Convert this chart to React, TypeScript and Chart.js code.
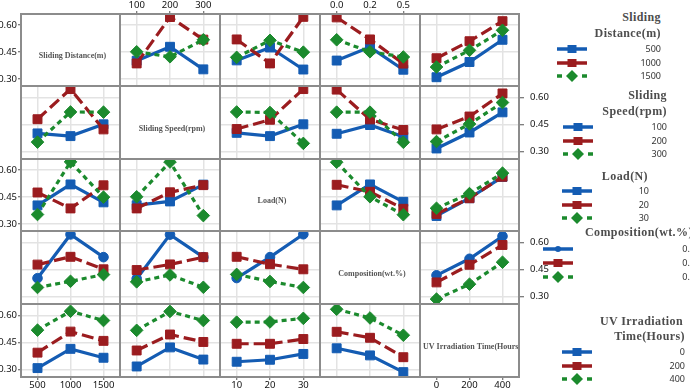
import React, { useEffect, useRef } from "react";
import { Chart, registerables } from "chart.js";

Chart.register(...registerables);

// ---------- text ----------
const factorNames = [
  "Sliding Distance(m)",
  "Sliding Speed(rpm)",
  "Load(N)",
  "Composition(wt.%)",
  "UV Irradiation Time(Hours)",
];
const legendTitles = [
  ["Sliding", "Distance(m)"],
  ["Sliding", "Speed(rpm)"],
  ["Load(N)"],
  ["Composition(wt.%)"],
  ["UV Irradiation", "Time(Hours)"],
];

// ---------- factor levels (category / tick labels) ----------
const distanceLevels = ["500", "1000", "1500"];
const speedLevels = ["100", "200", "300"];
const loadLevels = ["10", "20", "30"];
const compositionLevels = ["0.0", "0.2", "0.5"];
const uvLevels = ["0", "200", "400"];
const levelLists = [distanceLevels, speedLevels, loadLevels, compositionLevels, uvLevels];

// ---------- y axis ----------
const yTicks = [0.3, 0.45, 0.6];
const yMin = 0.26;
const yMax = 0.662;

// ---------- interaction means: [level of first factor][level of second factor] ----------
const distanceBySpeed = [
  [0.401, 0.479, 0.353],
  [0.386, 0.645, 0.519],
  [0.451, 0.423, 0.518],
];
const distanceByLoad = [
  [0.403, 0.475, 0.352],
  [0.52, 0.386, 0.646],
  [0.42, 0.515, 0.449],
];
const distanceByComposition = [
  [0.402, 0.477, 0.351],
  [0.643, 0.52, 0.385],
  [0.518, 0.451, 0.422],
];
const distanceByUV = [
  [0.309, 0.394, 0.518],
  [0.415, 0.51, 0.622],
  [0.366, 0.459, 0.571],
];
const speedByLoad = [
  [0.404, 0.386, 0.451],
  [0.425, 0.476, 0.645],
  [0.519, 0.516, 0.346],
];
const speedByComposition = [
  [0.399, 0.447, 0.382],
  [0.642, 0.478, 0.42],
  [0.518, 0.518, 0.352],
];
const speedByUV = [
  [0.318, 0.406, 0.517],
  [0.423, 0.494, 0.621],
  [0.356, 0.453, 0.571],
];
const loadByComposition = [
  [0.403, 0.52, 0.423],
  [0.518, 0.479, 0.384],
  [0.644, 0.451, 0.351],
];
const loadByUV = [
  [0.344, 0.443, 0.562],
  [0.355, 0.443, 0.563],
  [0.387, 0.469, 0.583],
];
const compositionByUV = [
  [0.418, 0.509, 0.633],
  [0.379, 0.476, 0.585],
  [0.287, 0.369, 0.49],
];

const pairMeans: Record<string, number[][]> = {
  "0-1": distanceBySpeed,
  "0-2": distanceByLoad,
  "0-3": distanceByComposition,
  "0-4": distanceByUV,
  "1-2": speedByLoad,
  "1-3": speedByComposition,
  "1-4": speedByUV,
  "2-3": loadByComposition,
  "2-4": loadByUV,
  "3-4": compositionByUV,
};

function cellSeries(r: number, c: number): number[][] {
  if (r < c) return pairMeans[`${r}-${c}`];
  const m = pairMeans[`${c}-${r}`];
  return m[0].map((_, i) => m.map((row) => row[i]));
}

// ---------- styling / layout ----------
const COLORS = ["#145cb3", "#9b1c1f", "#1b8a2d"];
const DASHES: number[][] = [[], [12, 5], [5, 4]];
const STYLES = ["rect", "rect", "rectRot"];
const COL_EDGES = [21, 120, 220, 320, 420, 519];
const ROW_EDGES = [14, 86, 159, 231, 304, 377];
const TICK_FONT = { family: "'Noto Sans', sans-serif", size: 9.5 };
const GRID_COLOR = "#e3e3e3";
const FRAME_COLOR = "#8c8c8c";

type LegendLayout = {
  titleRight?: number[];
  titleLeft?: number;
  titleY: number[];
  itemY: number[];
  markX: number;
  textRight: number;
};
const LEGEND_LAYOUT: LegendLayout[] = [
  { titleRight: [661, 661], titleY: [18, 34], itemY: [49, 62.7, 76], markX: 557, textRight: 661 },
  { titleRight: [667, 667], titleY: [96, 112], itemY: [126.7, 140.7, 153.5], markX: 563, textRight: 667 },
  { titleRight: [648], titleY: [176.7], itemY: [190.7, 204.7, 218.3], markX: 562, textRight: 649 },
  { titleLeft: 585, titleY: [233], itemY: [249, 263, 276.7], markX: 543, textRight: 695 },
  { titleRight: [683, 685], titleY: [321.7, 337.3], itemY: [352.3, 366, 379.3], markX: 562, textRight: 685 },
];

function Cell({ r, c }: { r: number; c: number }) {
  const ref = useRef<HTMLCanvasElement | null>(null);
  const diag = r === c;
  const hasLeft = c === 0 && r % 2 === 0;
  const hasRight = c === 4 && r % 2 === 1;
  const hasTop = r === 0 && c % 2 === 1;
  const hasBottom = r === 4 && c % 2 === 0;
  const L = hasLeft ? 22 : 1;
  const R = hasRight ? 32 : 1;
  const T = hasTop ? 14 : 1;
  const B = hasBottom ? 11 : 1;
  const x0 = COL_EDGES[c];
  const y0 = ROW_EDGES[r];
  const W = COL_EDGES[c + 1] - x0 + L + R;
  const H = ROW_EDGES[r + 1] - y0 + T + B;

  useEffect(() => {
    const canvas = ref.current;
    if (!canvas) return;
    const series = diag ? [] : cellSeries(r, c);
    const framePlugin = {
      id: "cellFrame",
      afterDraw(chart: any) {
        const { ctx, chartArea } = chart;
        const { left, top, right, bottom } = chartArea;
        ctx.save();
        if (diag) {
          ctx.font = "bold 8px 'Liberation Serif', serif";
          ctx.fillStyle = "#555";
          ctx.textAlign = "center";
          ctx.textBaseline = "middle";
          const label = factorNames[r];
          const w = ctx.measureText(label).width;
          const maxW = right - left - 6;
          const cx = w > maxW - 4 ? left + 3 + w / 2 : (left + right) / 2 + 2;
          ctx.fillText(label, cx, (top + bottom) / 2 + 6);
        }
        ctx.strokeStyle = FRAME_COLOR;
        ctx.lineWidth = 2;
        ctx.strokeRect(left, top, right - left, bottom - top);
        ctx.restore();
      },
    };
    const zeroPad = (s: any) => {
      s.paddingLeft = 0;
      s.paddingRight = 0;
      s.paddingTop = 0;
      s.paddingBottom = 0;
    };
    const chart = new Chart(canvas, {
      type: "line",
      data: {
        labels: levelLists[c],
        datasets: series.map((vals, i) => {
          const circle = r === 3 && i === 0;
          return {
            label: levelLists[r][i],
            data: vals,
            borderColor: COLORS[i],
            backgroundColor: COLORS[i],
            borderWidth: 3.2,
            borderDash: DASHES[i],
            pointStyle: circle ? "circle" : STYLES[i],
            pointRadius: circle ? 4.8 : 6.3,
            pointBorderWidth: 1,
            pointBorderColor: COLORS[i],
            pointBackgroundColor: COLORS[i],
            tension: 0,
            order: 2 - i,
          };
        }),
      },
      options: {
        animation: false,
        responsive: false,
        maintainAspectRatio: false,
        events: [],
        layout: {
          autoPadding: false,
          padding: {
            left: hasRight ? L : 0,
            right: hasRight ? 0 : R,
            top: hasTop ? 0 : T,
            bottom: hasTop ? B : 0,
          },
        },
        plugins: {
          legend: { display: false },
          tooltip: { enabled: false },
          title: { display: false },
        },
        scales: {
          x: {
            type: "category",
            offset: true,
            position: hasTop ? "top" : "bottom",
            grid: {
              color: GRID_COLOR,
              lineWidth: 1.5,
              drawOnChartArea: !diag,
              drawTicks: hasTop || hasBottom,
              tickLength: 3,
              tickColor: "#555",
              tickWidth: 1,
              offset: false,
            },
            border: { display: false },
            ticks: {
              display: hasTop || hasBottom,
              font: TICK_FONT,
              color: "#111",
              padding: 0,
              maxRotation: 0,
              autoSkip: false,
            },
            afterFit: (s: any) => {
              s.height = hasTop ? T : B;
              zeroPad(s);
            },
          },
          y: {
            type: "linear",
            min: yMin,
            max: yMax,
            position: hasRight ? "right" : "left",
            afterBuildTicks: (s: any) => {
              s.ticks = yTicks.map((v) => ({ value: v }));
            },
            grid: {
              color: GRID_COLOR,
              lineWidth: 1.5,
              drawOnChartArea: !diag,
              drawTicks: hasLeft || hasRight,
              tickLength: hasRight ? 5 : 3,
              tickColor: "#555",
              tickWidth: 1,
            },
            border: { display: false },
            ticks: {
              display: hasLeft || hasRight,
              font: TICK_FONT,
              color: "#111",
              padding: hasRight ? 6 : 1,
              callback: (v: any) => Number(v).toFixed(2),
            },
            afterFit: (s: any) => {
              s.width = hasRight ? R : L;
              zeroPad(s);
            },
          },
        },
      },
      plugins: [framePlugin],
    } as any);
    return () => chart.destroy();
  }, []);

  return (
    <canvas
      ref={ref}
      width={W}
      height={H}
      style={{ position: "absolute", left: x0 - L, top: y0 - T, width: W, height: H }}
    />
  );
}

function LegendMarker({ r, i }: { r: number; i: number }) {
  const color = COLORS[i];
  const circle = r === 3 && i === 0;
  return (
    <svg width={30} height={12} style={{ position: "absolute", left: 0, top: 0, overflow: "visible" }}>
      {i === 2 ? (
        <>
          <line x1={0} y1={6} x2={5} y2={6} stroke={color} strokeWidth={3.5} />
          <line x1={25} y1={6} x2={30} y2={6} stroke={color} strokeWidth={3.5} />
        </>
      ) : (
        <line x1={0} y1={6} x2={30} y2={6} stroke={color} strokeWidth={3.5} />
      )}
      {circle ? (
        <circle cx={15} cy={6} r={3} fill={color} />
      ) : i === 2 ? (
        <polygon points="15,0 21,6 15,12 9,6" fill={color} />
      ) : (
        <rect x={10.5} y={2} width={9} height={8} fill={color} />
      )}
    </svg>
  );
}

function Legend({ r }: { r: number }) {
  const lay = LEGEND_LAYOUT[r];
  return (
    <>
      {legendTitles[r].map((t, k) => (
        <div
          key={"t" + k}
          style={{
            position: "absolute",
            top: lay.titleY[k] - 8,
            height: 16,
            lineHeight: "16px",
            ...(lay.titleLeft != null
              ? { left: lay.titleLeft }
              : { right: 690 - (lay.titleRight as number[])[k] }),
            font: "bold 12px 'Liberation Serif', serif",
            letterSpacing: "0.4px",
            color: "#4d4d4d",
            whiteSpace: "nowrap",
          }}
        >
          {t}
        </div>
      ))}
      {levelLists[r].map((lv, i) => (
        <React.Fragment key={"i" + i}>
          <div style={{ position: "absolute", left: lay.markX, top: lay.itemY[i] - 6, width: 30, height: 12 }}>
            <LegendMarker r={r} i={i} />
          </div>
          <div
            style={{
              position: "absolute",
              right: 690 - lay.textRight,
              top: lay.itemY[i] - 7,
              height: 14,
              lineHeight: "14px",
              font: "9px 'Noto Sans', sans-serif",
              color: "#333",
              whiteSpace: "nowrap",
            }}
          >
            {lv}
          </div>
        </React.Fragment>
      ))}
    </>
  );
}

export default function App() {
  const cells: JSX.Element[] = [];
  for (let r = 0; r < 5; r++) {
    for (let c = 0; c < 5; c++) {
      cells.push(<Cell key={`${r}-${c}`} r={r} c={c} />);
    }
  }
  return (
    <div
      style={{
        position: "absolute",
        left: 0,
        top: 0,
        width: 690,
        height: 388,
        overflow: "hidden",
        background: "#fff",
      }}
    >
      {cells}
      {[0, 1, 2, 3, 4].map((r) => (
        <Legend key={"l" + r} r={r} />
      ))}
    </div>
  );
}
